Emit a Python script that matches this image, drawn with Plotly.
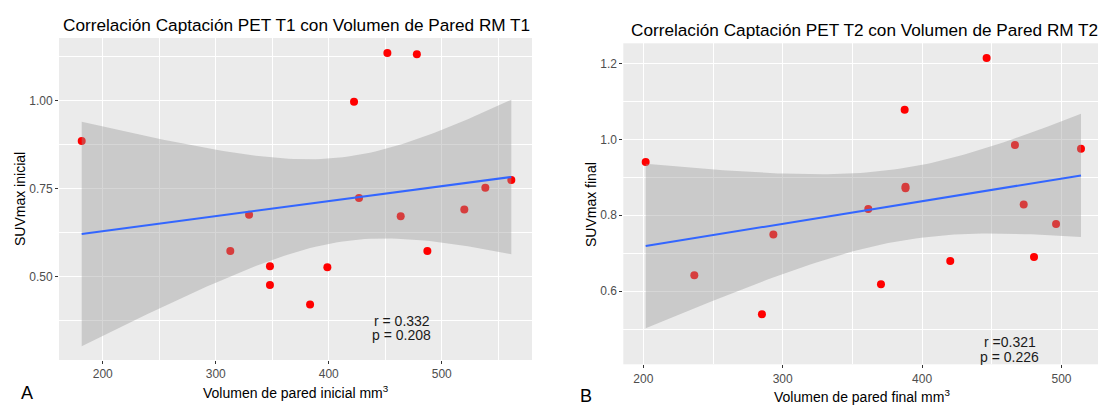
import numpy as np
import plotly.graph_objects as go

# ---- Data ----
vol_inicial = [181.4, 312.9, 329.5, 348.0, 348.0, 383.5, 398.8, 422.4,
               426.8, 451.9, 463.7, 478.0, 487.3, 520.0, 538.6, 561.6]
suv_inicial = [0.886, 0.573, 0.676, 0.530, 0.476, 0.421, 0.527, 0.998,
               0.724, 1.136, 0.672, 1.133, 0.573, 0.691, 0.753, 0.775]

vol_final = [201.7, 236.6, 285.1, 293.3, 361.4, 370.5, 387.5, 388.1,
             388.1, 420.2, 446.3, 466.6, 472.9, 480.3, 496.1, 514.0]
suv_final = [0.940, 0.642, 0.539, 0.749, 0.816, 0.618, 1.078, 0.875,
             0.871, 0.679, 1.214, 0.985, 0.828, 0.690, 0.777, 0.975]

stats_1 = ["r = 0.332", "p = 0.208"]
stats_2 = ["r =0.321", "p = 0.226"]
T_CRIT = 2.1448  # t(0.975, df=14)

W, H = 1098, 406


def px_x(p):
    return p / W


def px_y(p):
    return 1 - p / H


def lm_band(x, y, n_grid=80):
    x = np.asarray(x, float)
    y = np.asarray(y, float)
    n = len(x)
    b, a = np.polyfit(x, y, 1)
    resid = y - (a + b * x)
    s = np.sqrt(np.sum(resid ** 2) / (n - 2))
    sxx = np.sum((x - x.mean()) ** 2)
    g = np.linspace(x.min(), x.max(), n_grid)
    fit = a + b * g
    se = s * np.sqrt(1.0 / n + (g - x.mean()) ** 2 / sxx)
    return g, fit, fit - T_CRIT * se, fit + T_CRIT * se


fig = go.Figure()

panels = [
    dict(x=vol_inicial, y=suv_inicial, xa="x", ya="y"),
    dict(x=vol_final, y=suv_final, xa="x2", ya="y2"),
]
for p in panels:
    fig.add_trace(go.Scatter(x=p["x"], y=p["y"], mode="markers",
                             marker=dict(color="#FF0000", size=8),
                             xaxis=p["xa"], yaxis=p["ya"], showlegend=False))
    g, fit, lo, hi = lm_band(p["x"], p["y"])
    fig.add_trace(go.Scatter(x=list(g) + list(g[::-1]), y=list(hi) + list(lo[::-1]),
                             mode="lines", fill="toself",
                             fillcolor="rgba(153,153,153,0.4)", line=dict(width=0),
                             xaxis=p["xa"], yaxis=p["ya"], showlegend=False,
                             hoverinfo="skip"))
    fig.add_trace(go.Scatter(x=g, y=fit, mode="lines",
                             line=dict(color="#3366FF", width=2),
                             xaxis=p["xa"], yaxis=p["ya"], showlegend=False))

axis_common = dict(showgrid=True, gridcolor="white", gridwidth=1.1, zeroline=False,
                   ticks="outside", ticklen=3, tickcolor="#333333", tickwidth=1,
                   tickfont=dict(family="Liberation Sans, Arial", size=12, color="#4D4D4D"),
                   showline=False)

fig.update_layout(
    width=W, height=H,
    margin=dict(l=0, r=0, t=0, b=0),
    paper_bgcolor="white", plot_bgcolor="#EBEBEB",
    xaxis=dict(domain=[px_x(59), px_x(532)], range=[161.3, 579.9], anchor="y",
               tickvals=[200, 300, 400, 500],
               minor=dict(tickvals=[250, 350, 450, 550], showgrid=True, gridcolor="white",
                          gridwidth=0.5, ticks=""), **axis_common),
    yaxis=dict(domain=[px_y(360), px_y(38)], range=[0.263, 1.179], anchor="x",
               tickvals=[0.5, 0.75, 1.0], ticktext=["0.50", "0.75", "1.00"],
               minor=dict(tickvals=[0.375, 0.625, 0.875, 1.125], showgrid=True,
                          gridcolor="white", gridwidth=0.5, ticks=""), **axis_common),
    xaxis2=dict(domain=[px_x(623.3), 1.0], range=[185.65, 526.2], anchor="y2",
                tickvals=[200, 300, 400, 500],
                minor=dict(tickvals=[250, 350, 450, 550], showgrid=True, gridcolor="white",
                           gridwidth=0.5, ticks=""), **axis_common),
    yaxis2=dict(domain=[px_y(364.3), px_y(43.3)], range=[0.407, 1.253], anchor="x2",
                tickvals=[0.6, 0.8, 1.0, 1.2], ticktext=["0.6", "0.8", "1.0", "1.2"],
                minor=dict(tickvals=[0.5, 0.7, 0.9, 1.1], showgrid=True,
                           gridcolor="white", gridwidth=0.5, ticks=""), **axis_common),
)

font_main = "Liberation Sans, Arial"
anns = []
# titles
anns.append(dict(text="Correlación Captación PET T1 con Volumen de Pared RM T1",
                 x=px_x(61), y=px_y(25), xref="paper", yref="paper",
                 xanchor="left", yanchor="middle", showarrow=False,
                 font=dict(family=font_main, size=17.2, color="black")))
anns.append(dict(text="Correlación Captación PET T2 con Volumen de Pared RM T2",
                 x=px_x(629), y=px_y(30), xref="paper", yref="paper",
                 xanchor="left", yanchor="middle", showarrow=False,
                 font=dict(family=font_main, size=17.2, color="black")))
# axis titles
anns.append(dict(text="SUVmax inicial", x=px_x(20), y=px_y(199), xref="paper", yref="paper",
                 textangle=-90, showarrow=False, xanchor="center", yanchor="middle",
                 font=dict(family=font_main, size=14, color="black")))
anns.append(dict(text="SUVmax final", x=px_x(591), y=px_y(205), xref="paper", yref="paper",
                 textangle=-90, showarrow=False, xanchor="center", yanchor="middle",
                 font=dict(family=font_main, size=14, color="black")))
anns.append(dict(text="Volumen de pared inicial mm<sup>3</sup>", x=px_x(296), y=px_y(392),
                 xref="paper", yref="paper", showarrow=False, xanchor="center", yanchor="middle",
                 font=dict(family=font_main, size=14, color="black")))
anns.append(dict(text="Volumen de pared final mm<sup>3</sup>", x=px_x(862), y=px_y(396),
                 xref="paper", yref="paper", showarrow=False, xanchor="center", yanchor="middle",
                 font=dict(family=font_main, size=14, color="black")))
# panel letters
anns.append(dict(text="A", x=px_x(27), y=px_y(393), xref="paper", yref="paper",
                 showarrow=False, xanchor="center", yanchor="middle",
                 font=dict(family=font_main, size=18, color="black")))
anns.append(dict(text="B", x=px_x(586), y=px_y(396), xref="paper", yref="paper",
                 showarrow=False, xanchor="center", yanchor="middle",
                 font=dict(family=font_main, size=18, color="black")))
# stats
for txt, yv in zip(stats_1, [0.374, 0.334]):
    anns.append(dict(text=txt, x=464.6, y=yv, xref="x", yref="y", showarrow=False,
                     xanchor="center", yanchor="middle",
                     font=dict(family=font_main, size=14, color="#1a1a1a")))
for txt, yv in zip(stats_2, [0.467, 0.426]):
    anns.append(dict(text=txt, x=462.8, y=yv, xref="x2", yref="y2", showarrow=False,
                     xanchor="center", yanchor="middle",
                     font=dict(family=font_main, size=14, color="#1a1a1a")))

fig.update_layout(annotations=anns)
fig.write_html("out.html")
